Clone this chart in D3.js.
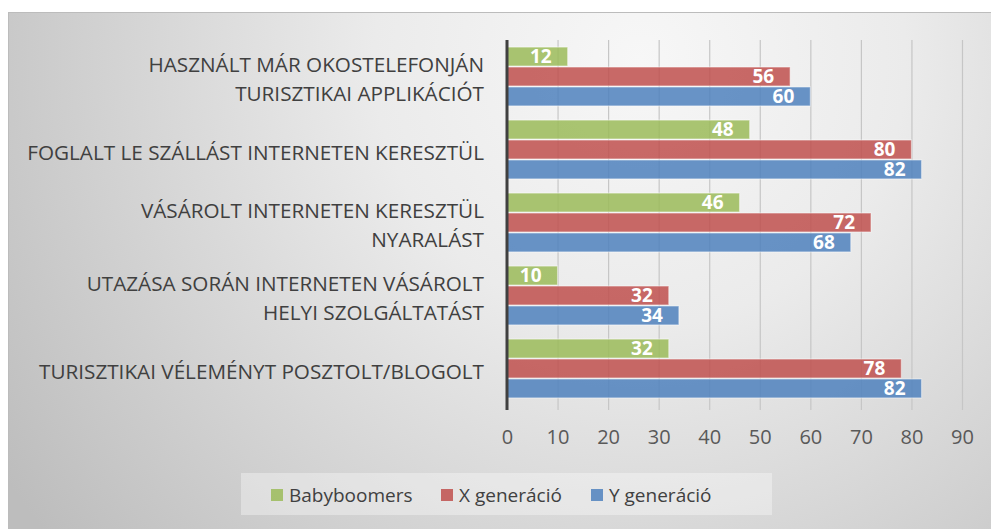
<!DOCTYPE html>
<html>
<head>
<meta charset="utf-8">
<script src="https://cdn.jsdelivr.net/npm/d3@7"></script>
<style>
  html, body { margin: 0; padding: 0; background: #ffffff; }
  svg { display: block; }
</style>
</head>
<body>
<svg id="chart" width="991" height="529"></svg>
<script>
// Survey categories (top to bottom) and one value per generation
const categories = [
  ["HASZNÁLT MÁR OKOSTELEFONJÁN", "TURISZTIKAI APPLIKÁCIÓT"],
  ["FOGLALT LE SZÁLLÁST INTERNETEN KERESZTÜL"],
  ["VÁSÁROLT INTERNETEN KERESZTÜL", "NYARALÁST"],
  ["UTAZÁSA SORÁN INTERNETEN VÁSÁROLT", "HELYI SZOLGÁLTATÁST"],
  ["TURISZTIKAI VÉLEMÉNYT POSZTOLT/BLOGOLT"]
];
const seriesNames = ["Babyboomers", "X generáció", "Y generáció"];
const babyboomers = [12, 48, 46, 10, 32];
const xGeneracio  = [56, 80, 72, 32, 78];
const yGeneracio  = [60, 82, 68, 34, 82];
const xTicks = [0, 10, 20, 30, 40, 50, 60, 70, 80, 90];

const seriesValues = [babyboomers, xGeneracio, yGeneracio];
const colors = ["#9BBB59", "#C0504D", "#4F81BD"];

const svg = d3.select("#chart");
const W = 991, H = 529;

// Background panel with soft radial shading
const defs = svg.append("defs");
const grad = defs.append("radialGradient")
  .attr("id", "bg")
  .attr("gradientUnits", "userSpaceOnUse")
  .attr("cx", 640).attr("cy", 60).attr("r", 760);
grad.append("stop").attr("offset", "0%").attr("stop-color", "#f7f7f7");
grad.append("stop").attr("offset", "35%").attr("stop-color", "#ebebeb");
grad.append("stop").attr("offset", "100%").attr("stop-color", "#bdbdbd");

svg.append("rect")
  .attr("x", 8.5).attr("y", 12.5)
  .attr("width", W).attr("height", H)
  .attr("fill", "url(#bg)")
  .attr("stroke", "#bcbcbc").attr("stroke-width", 1);

const plot = { left: 507, right: 962, top: 40, bottom: 405 };

const x = d3.scaleLinear().domain([0, 90]).range([plot.left, plot.right]);
const y0 = d3.scaleBand()
  .domain(d3.range(categories.length))
  .range([plot.top, plot.bottom])
  .paddingInner(0.18).paddingOuter(0.09);
const y1 = d3.scaleBand()
  .domain(d3.range(seriesNames.length))
  .range([0, y0.bandwidth()]);

// Vertical gridlines with tick marks below the plot
const axis = d3.axisBottom(x)
  .tickValues(xTicks)
  .tickSize(-(plot.bottom - plot.top) - 5)
  .tickPadding(0)
  .tickFormat(d3.format("d"));
const gAxis = svg.append("g")
  .attr("transform", `translate(0,${plot.bottom + 5})`)
  .call(axis);
gAxis.select(".domain").remove();
gAxis.selectAll(".tick line")
  .attr("stroke", "#c6c6c6").attr("stroke-width", 1.2);
gAxis.selectAll(".tick text")
  .attr("dy", "0")
  .attr("y", 34)
  .attr("fill", "#595959")
  .style("font-family", "'Open Sans', sans-serif")
  .style("font-size", "20px");

// Bars
const groups = svg.append("g").selectAll("g")
  .data(categories)
  .join("g")
  .attr("transform", (d, i) => `translate(0,${y0(i)})`);

groups.each(function(cat, ci) {
  const g = d3.select(this);
  seriesValues.forEach((vals, si) => {
    const v = vals[ci];
    g.append("rect")
      .attr("x", x(0))
      .attr("y", y1(si) + 0.5)
      .attr("width", x(v) - x(0))
      .attr("height", y1.bandwidth() - 1)
      .attr("fill", colors[si])
      .attr("fill-opacity", 0.85)
      .attr("stroke", "#ffffff")
      .attr("stroke-opacity", 0.45)
      .attr("stroke-width", 1.2);
    g.append("text")
      .attr("x", x(v) - 16)
      .attr("y", y1(si) + y1.bandwidth() / 2)
      .attr("dy", "0.36em")
      .attr("text-anchor", "end")
      .attr("fill", "#ffffff")
      .style("font-family", "'Open Sans', sans-serif")
      .style("font-weight", "bold")
      .style("font-size", "19px")
      .text(v);
  });
});

// Value axis line at zero
svg.append("line")
  .attr("x1", x(0)).attr("x2", x(0))
  .attr("y1", plot.top).attr("y2", plot.bottom + 5)
  .attr("stroke", "#404040").attr("stroke-width", 3);

// Category labels, right-aligned beside the axis
const lineH = 29;
categories.forEach((lines, i) => {
  const cy = y0(i) + y0.bandwidth() / 2 + 3;
  const t = svg.append("text")
    .attr("text-anchor", "end")
    .attr("fill", "#404040")
    .style("font-family", "'Open Sans', sans-serif")
    .style("font-size", "20.7px");
  lines.forEach((ln, k) => {
    t.append("tspan")
      .attr("x", 484)
      .attr("y", cy + (k - (lines.length - 1) / 2) * lineH)
      .attr("dy", "0.35em")
      .text(ln);
  });
});

// Legend
const legend = svg.append("g");
legend.append("rect")
  .attr("x", 241).attr("y", 473)
  .attr("width", 531).attr("height", 42)
  .attr("fill", "#ffffff").attr("fill-opacity", 0.35);
const legendX = [271, 441, 591];
seriesNames.forEach((name, i) => {
  legend.append("rect")
    .attr("x", legendX[i]).attr("y", 489)
    .attr("width", 12).attr("height", 12)
    .attr("fill", colors[i]).attr("fill-opacity", 0.85);
  legend.append("text")
    .attr("x", legendX[i] + 18).attr("y", 495)
    .attr("dy", "0.36em")
    .attr("fill", "#404040")
    .style("font-family", "'Open Sans', sans-serif")
    .style("font-size", "19px")
    .text(name);
});
</script>
</body>
</html>
